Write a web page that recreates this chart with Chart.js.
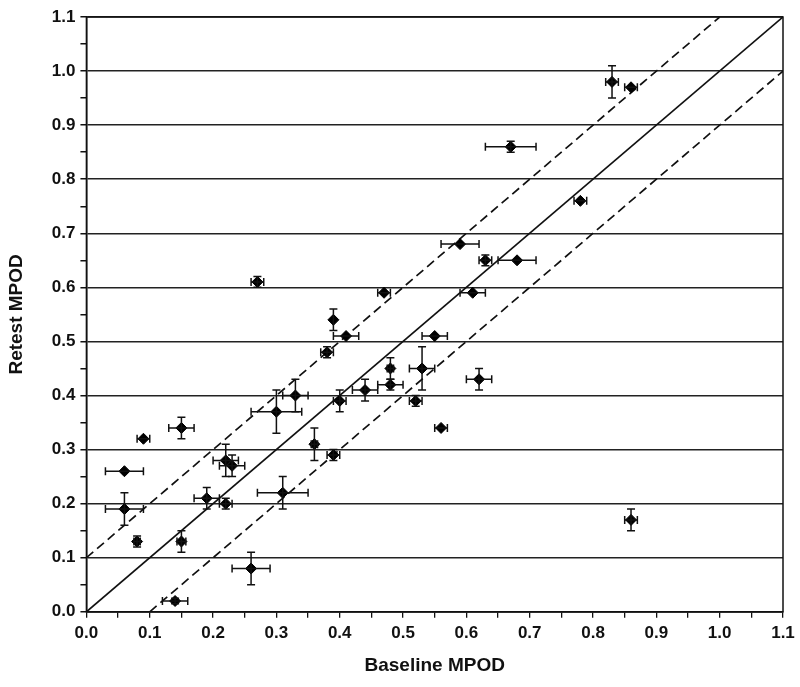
<!DOCTYPE html>
<html>
	<head>
		<meta charset="UTF-8">
		<title>Baseline vs Retest MPOD</title>
		<script src="https://cdn.jsdelivr.net/npm/chart.js@4.4.1/dist/chart.umd.min.js"></script>
		<style type="text/css">
			*{
				margin: 0;
				padding: 0;
			}
			body{
				background: white;
			}
			#wrap{
				width: 800px;
				height: 687px;
			}
		</style>
	</head>
	<body>
		<div id="wrap"><canvas id="mpod"></canvas></div>
		<script type="text/javascript">
			// baseline / retest values
			var baseline = [0.83, 0.86, 0.67, 0.78, 0.59, 0.63, 0.68, 0.27, 0.47, 0.61,
				0.39, 0.41, 0.55, 0.38, 0.48, 0.53, 0.44, 0.48, 0.40, 0.52,
				0.62, 0.56, 0.33, 0.30, 0.15, 0.09, 0.06, 0.22, 0.23, 0.36,
				0.39, 0.06, 0.19, 0.22, 0.31, 0.08, 0.15, 0.26, 0.14, 0.86];
			var retest = [0.98, 0.97, 0.86, 0.76, 0.68, 0.65, 0.65, 0.61, 0.59, 0.59,
				0.54, 0.51, 0.51, 0.48, 0.45, 0.45, 0.41, 0.42, 0.39, 0.39,
				0.43, 0.34, 0.40, 0.37, 0.34, 0.32, 0.26, 0.28, 0.27, 0.31,
				0.29, 0.19, 0.21, 0.20, 0.22, 0.13, 0.13, 0.08, 0.02, 0.17];
			// error bar half widths
			var baselineErr = [0.01, 0.01, 0.04, 0.01, 0.03, 0.01, 0.03, 0.01, 0.01, 0.02,
				0, 0.02, 0.02, 0.01, 0.005, 0.02, 0.02, 0.02, 0.01, 0.01,
				0.02, 0.01, 0.02, 0.04, 0.02, 0.01, 0.03, 0.02, 0.02, 0.005,
				0.01, 0.03, 0.02, 0.01, 0.04, 0.005, 0.007, 0.03, 0.02, 0.01];
			var retestErr = [0.03, 0, 0.01, 0, 0, 0.01, 0, 0.01, 0, 0,
				0.02, 0, 0, 0.01, 0.02, 0.04, 0.02, 0.01, 0.02, 0.01,
				0.02, 0, 0.03, 0.04, 0.02, 0, 0, 0.03, 0.02, 0.03,
				0.01, 0.03, 0.02, 0.01, 0.03, 0.01, 0.02, 0.03, 0.005, 0.02];

			// identity line and +/-0.1 limits
			var identityX = [0, 1.1];
			var identityY = [0, 1.1];
			var upperX = [0, 1.0];
			var upperY = [0.1, 1.1];
			var lowerX = [0.1, 1.1];
			var lowerY = [0, 1.0];

			var axisMin = 0, axisMax = 1.1, axisStep = 0.05;

			function pts(xs, ys){
				return xs.map(function(x, i){ return {x: x, y: ys[i]}; });
			}

			var font = "'Liberation Sans', Arial, sans-serif";

			//draw error bars with caps
			var errorBars = {
				id: 'errorBars',
				afterDatasetsDraw: function(chart){
					var ctx = chart.ctx;
					var xs = chart.scales.x, ys = chart.scales.y;
					var cap = 4;
					ctx.save();
					ctx.strokeStyle = '#111';
					ctx.lineWidth = 1.5;
					for(var i = 0; i < baseline.length; i++){
						var px = xs.getPixelForValue(baseline[i]);
						var py = ys.getPixelForValue(retest[i]);
						ctx.beginPath();
						if(baselineErr[i] > 0){
							var l = xs.getPixelForValue(baseline[i] - baselineErr[i]);
							var r = xs.getPixelForValue(baseline[i] + baselineErr[i]);
							ctx.moveTo(l, py); ctx.lineTo(r, py);
							ctx.moveTo(l, py - cap); ctx.lineTo(l, py + cap);
							ctx.moveTo(r, py - cap); ctx.lineTo(r, py + cap);
						}
						if(retestErr[i] > 0){
							var t = ys.getPixelForValue(retest[i] + retestErr[i]);
							var b = ys.getPixelForValue(retest[i] - retestErr[i]);
							ctx.moveTo(px, t); ctx.lineTo(px, b);
							ctx.moveTo(px - cap, t); ctx.lineTo(px + cap, t);
							ctx.moveTo(px - cap, b); ctx.lineTo(px + cap, b);
						}
						ctx.stroke();
					}
					ctx.restore();
				}
			};

			//frame around the plot area
			var frame = {
				id: 'frame',
				afterDraw: function(chart){
					var a = chart.chartArea, ctx = chart.ctx;
					ctx.save();
					ctx.strokeStyle = '#111';
					ctx.lineWidth = 1.5;
					ctx.strokeRect(a.left, a.top, a.right - a.left, a.bottom - a.top);
					ctx.restore();
				}
			};

			var lineStyle = {
				type: 'line',
				showLine: true,
				pointRadius: 0,
				borderColor: '#111',
				borderWidth: 1.7,
				fill: false,
				order: 2
			};

			var ctx = document.getElementById('mpod').getContext('2d');
			new Chart(ctx, {
				type: 'scatter',
				data: {
					datasets: [
						{
							label: 'MPOD',
							data: pts(baseline, retest),
							pointStyle: 'rectRot',
							pointRadius: 5.5,
							backgroundColor: '#000',
							borderColor: '#000',
							borderWidth: 1,
							order: 1
						},
						Object.assign({label: 'identity', data: pts(identityX, identityY)}, lineStyle),
						Object.assign({label: 'upper', data: pts(upperX, upperY), borderDash: [9, 5]}, lineStyle),
						Object.assign({label: 'lower', data: pts(lowerX, lowerY), borderDash: [9, 5]}, lineStyle)
					]
				},
				options: {
					responsive: true,
					maintainAspectRatio: false,
					animation: false,
					layout: {padding: {top: 17, right: 17, left: 5, bottom: 6}},
					plugins: {
						legend: {display: false},
						tooltip: {enabled: false}
					},
					scales: {
						x: {
							type: 'linear',
							min: axisMin,
							max: axisMax,
							border: {display: true, color: '#111', width: 1.5},
							grid: {
								drawOnChartArea: false,
								drawTicks: true,
								tickLength: 6,
								tickColor: '#111',
								lineWidth: 1.3
							},
							ticks: {
								stepSize: axisStep,
								autoSkip: false,
								maxRotation: 0,
								color: '#111',
								padding: 5,
								font: {family: font, size: 17, weight: 'bold'},
								callback: function(v, i){ return i % 2 ? '' : v.toFixed(1); }
							},
							title: {
								display: true,
								text: 'Baseline MPOD',
								color: '#111',
								padding: {top: 6},
								font: {family: font, size: 19, weight: 'bold'}
							}
						},
						y: {
							type: 'linear',
							min: axisMin,
							max: axisMax,
							border: {display: true, color: '#111', width: 1.5},
							grid: {
								color: function(c){ return c.index % 2 ? 'rgba(0,0,0,0)' : '#222'; },
								lineWidth: 1.5,
								tickLength: 6,
								tickColor: '#111'
							},
							ticks: {
								stepSize: axisStep,
								autoSkip: false,
								color: '#111',
								padding: 5,
								font: {family: font, size: 17, weight: 'bold'},
								callback: function(v, i){ return i % 2 ? '' : v.toFixed(1); }
							},
							title: {
								display: true,
								text: 'Retest MPOD',
								color: '#111',
								padding: {top: 0, bottom: 19},
								font: {family: font, size: 19, weight: 'bold'}
							}
						}
					}
				},
				plugins: [errorBars, frame]
			});
		</script>
	</body>
</html>
